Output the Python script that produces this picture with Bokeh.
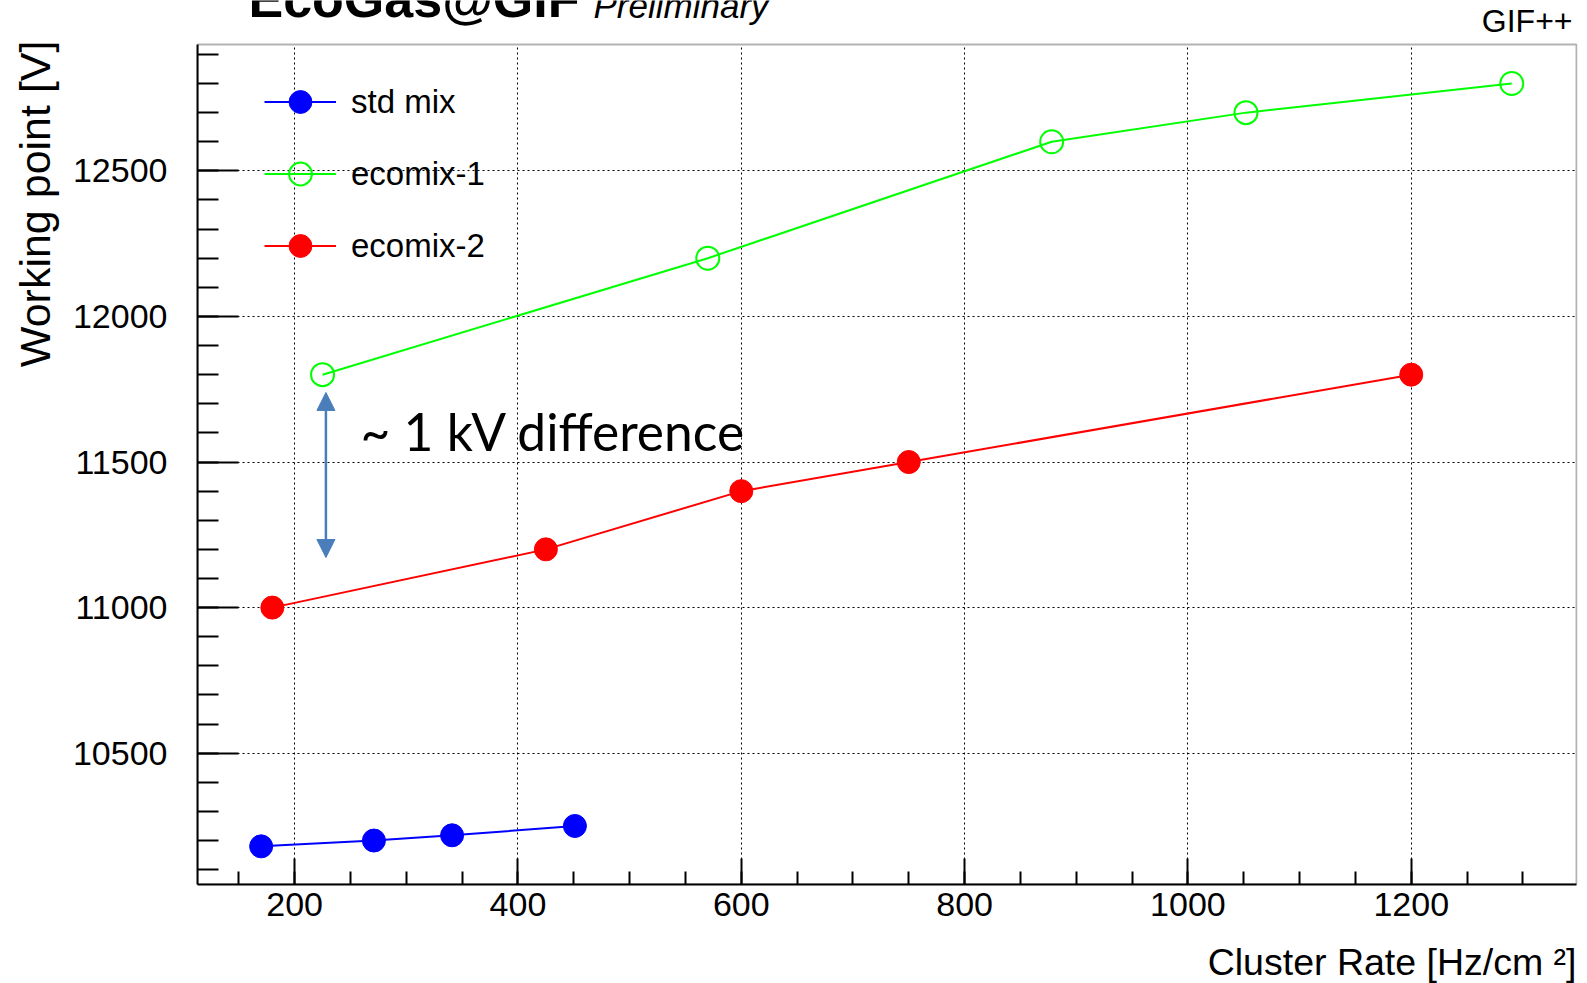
import numpy as np
from bokeh.plotting import figure
from bokeh.models import (FixedTicker, Label, Legend, LegendItem, Arrow,
                          NormalHead, Range1d, Title, BoxAnnotation, Grid)
from bokeh.embed import file_html
from bokeh.resources import INLINE

# ---- data ----
std_rate = [170, 271, 341, 451]
std_wp = [10180, 10200, 10218, 10250]

eco1_rate = [225, 570, 878, 1052, 1290]
eco1_wp = [11800, 12200, 12600, 12700, 12800]

eco2_rate = [180, 425, 600, 750, 1200]
eco2_wp = [11000, 11200, 11400, 11500, 11800]

series_names = ["std mix", "ecomix-1", "ecomix-2"]

x_major = [200, 400, 600, 800, 1000, 1200]
x_minor = list(range(150, 1350, 50))
y_major = [10500, 11000, 11500, 12000, 12500]
y_minor = list(range(10100, 13000, 100))

# axis box limits
X_LO, X_HI = 113, 1348
Y_LO, Y_BOX_TOP = 10049, 12934

W, H = 1587, 983
FONT = "Liberation Sans"
BORDER_L, BORDER_R, BORDER_B = 197, 10, 99
BOX_TOP_PX = 44                      # box top lies 44px below canvas top
FRAME_H = H - BORDER_B               # frame extends to the canvas top
BOX_H = FRAME_H - BOX_TOP_PX
Y_HI = Y_BOX_TOP + BOX_TOP_PX * (Y_BOX_TOP - Y_LO) / BOX_H
FRAME_W = W - BORDER_L - BORDER_R
X_END = X_HI + 1 * (X_HI - X_LO) / (FRAME_W - 1)

p = figure(width=W, height=H, output_backend="svg", toolbar_location=None,
           x_range=Range1d(X_LO, X_END), y_range=Range1d(Y_LO, Y_HI),
           min_border_left=BORDER_L, min_border_right=BORDER_R,
           min_border_top=0, min_border_bottom=BORDER_B)
p.background_fill_color = "white"
p.border_fill_color = "white"
p.outline_line_color = None

xa = p.xaxis[0]
ya = p.yaxis[0]
xa.ticker = FixedTicker(ticks=x_major, minor_ticks=x_minor)
ya.ticker = FixedTicker(ticks=y_major, minor_ticks=y_minor)
xa.bounds = (X_LO, X_HI)
ya.bounds = (Y_LO, Y_BOX_TOP)
for ax in (xa, ya):
    ax.axis_line_color = "black"
    ax.axis_line_width = 2
    ax.major_tick_line_color = "black"
    ax.minor_tick_line_color = "black"
    ax.major_tick_line_width = 2
    ax.minor_tick_line_width = 2
    ax.major_tick_out = 0
    ax.minor_tick_out = 0
    ax.major_label_text_font = FONT
    ax.major_label_text_font_size = "34px"
    ax.major_label_text_color = "black"
xa.major_tick_in = 26
xa.minor_tick_in = 13
ya.major_tick_in = 41
ya.minor_tick_in = 21
xa.major_label_standoff = 8
ya.major_label_standoff = 30

xg, yg = p.xgrid[0], p.ygrid[0]
for g in (xg, yg):
    g.grid_line_color = "black"
    g.grid_line_dash = "2 3"
    g.grid_line_width = 1
if "cross_bounds" in Grid.properties():
    xg.cross_bounds = (Y_LO, Y_BOX_TOP)
else:
    xg.visible = False
    p.segment(x0=x_major, y0=[Y_LO] * len(x_major), x1=x_major,
              y1=[Y_BOX_TOP] * len(x_major), line_color="black",
              line_dash="2 3", line_width=1)

# frame box
p.add_layout(BoxAnnotation(left=X_LO, right=X_HI, bottom=Y_LO, top=Y_BOX_TOP,
                           fill_color=None, fill_alpha=0, line_color="black",
                           line_width=2, level="overlay"))

# ---- series ----
l1 = p.line(std_rate, std_wp, line_color="#0000ff", line_width=2)
s1 = p.scatter(std_rate, std_wp, marker="circle", size=23,
               fill_color="#0000ff", line_color="#0000ff")
l2 = p.line(eco1_rate, eco1_wp, line_color="#00ff00", line_width=2)
s2 = p.scatter(eco1_rate, eco1_wp, marker="circle", size=23,
               fill_color=None, line_color="#00ff00", line_width=2)
l3 = p.line(eco2_rate, eco2_wp, line_color="#ff0000", line_width=2)
s3 = p.scatter(eco2_rate, eco2_wp, marker="circle", size=23,
               fill_color="#ff0000", line_color="#ff0000")

legend = Legend(items=[LegendItem(label=series_names[0], renderers=[l1, s1]),
                       LegendItem(label=series_names[1], renderers=[l2, s2]),
                       LegendItem(label=series_names[2], renderers=[l3, s3])],
                location=(57, 600), glyph_width=72, glyph_height=57,
                label_height=57, spacing=15, padding=10, margin=0,
                label_standoff=15, label_text_font=FONT,
                label_text_font_size="33px", label_text_color="black",
                border_line_alpha=0, background_fill_alpha=0)
p.add_layout(legend)

# ---- texts inside the (extended) frame ----
def lab(text, x, y, size, style="normal", align="left"):
    p.add_layout(Label(x=x, y=y, x_units="screen", y_units="screen", text=text,
                       text_font=FONT, text_font_size=size,
                       text_font_style=style, text_align=align,
                       text_baseline="alphabetic", text_color="black"))

lab("EcoGas@GIF", 51, 886, "52px", style="bold")
lab("Preliminary", 396, 879, "35px", style="italic")
lab("GIF++", 1375, 864, "32px", align="right")

# axis titles (side panels)
p.add_layout(Title(text="Working point [V]", align="right", offset=40,
                   standoff=18, vertical_align="top", text_font=FONT,
                   text_font_size="43px", text_font_style="normal",
                   text_color="black"), "left")
# small spacer between the x axis and its title
p.add_layout(Title(text=" ", standoff=1, text_font=FONT,
                   text_font_size="15px"), "below")
p.add_layout(Title(text="Cluster Rate [Hz/cm ²]", align="right", offset=1,
                   standoff=0, vertical_align="bottom", text_font=FONT,
                   text_font_size="37.5px", text_font_style="normal",
                   text_color="black"), "below")

# annotation
p.add_layout(Label(x=259, y=11606, text="~ 1 kV difference", text_font="Lato",
                   text_font_size="51.5px", text_baseline="alphabetic",
                   text_color="black"))
ac = "#4a7ebb"
p.add_layout(Arrow(start=NormalHead(size=18, fill_color=ac, line_color=ac),
                   end=NormalHead(size=18, fill_color=ac, line_color=ac),
                   x_start=228, y_start=11739, x_end=228, y_end=11172,
                   line_color=ac, line_width=2.5))

open("out.html", "w").write(file_html(p, INLINE))
